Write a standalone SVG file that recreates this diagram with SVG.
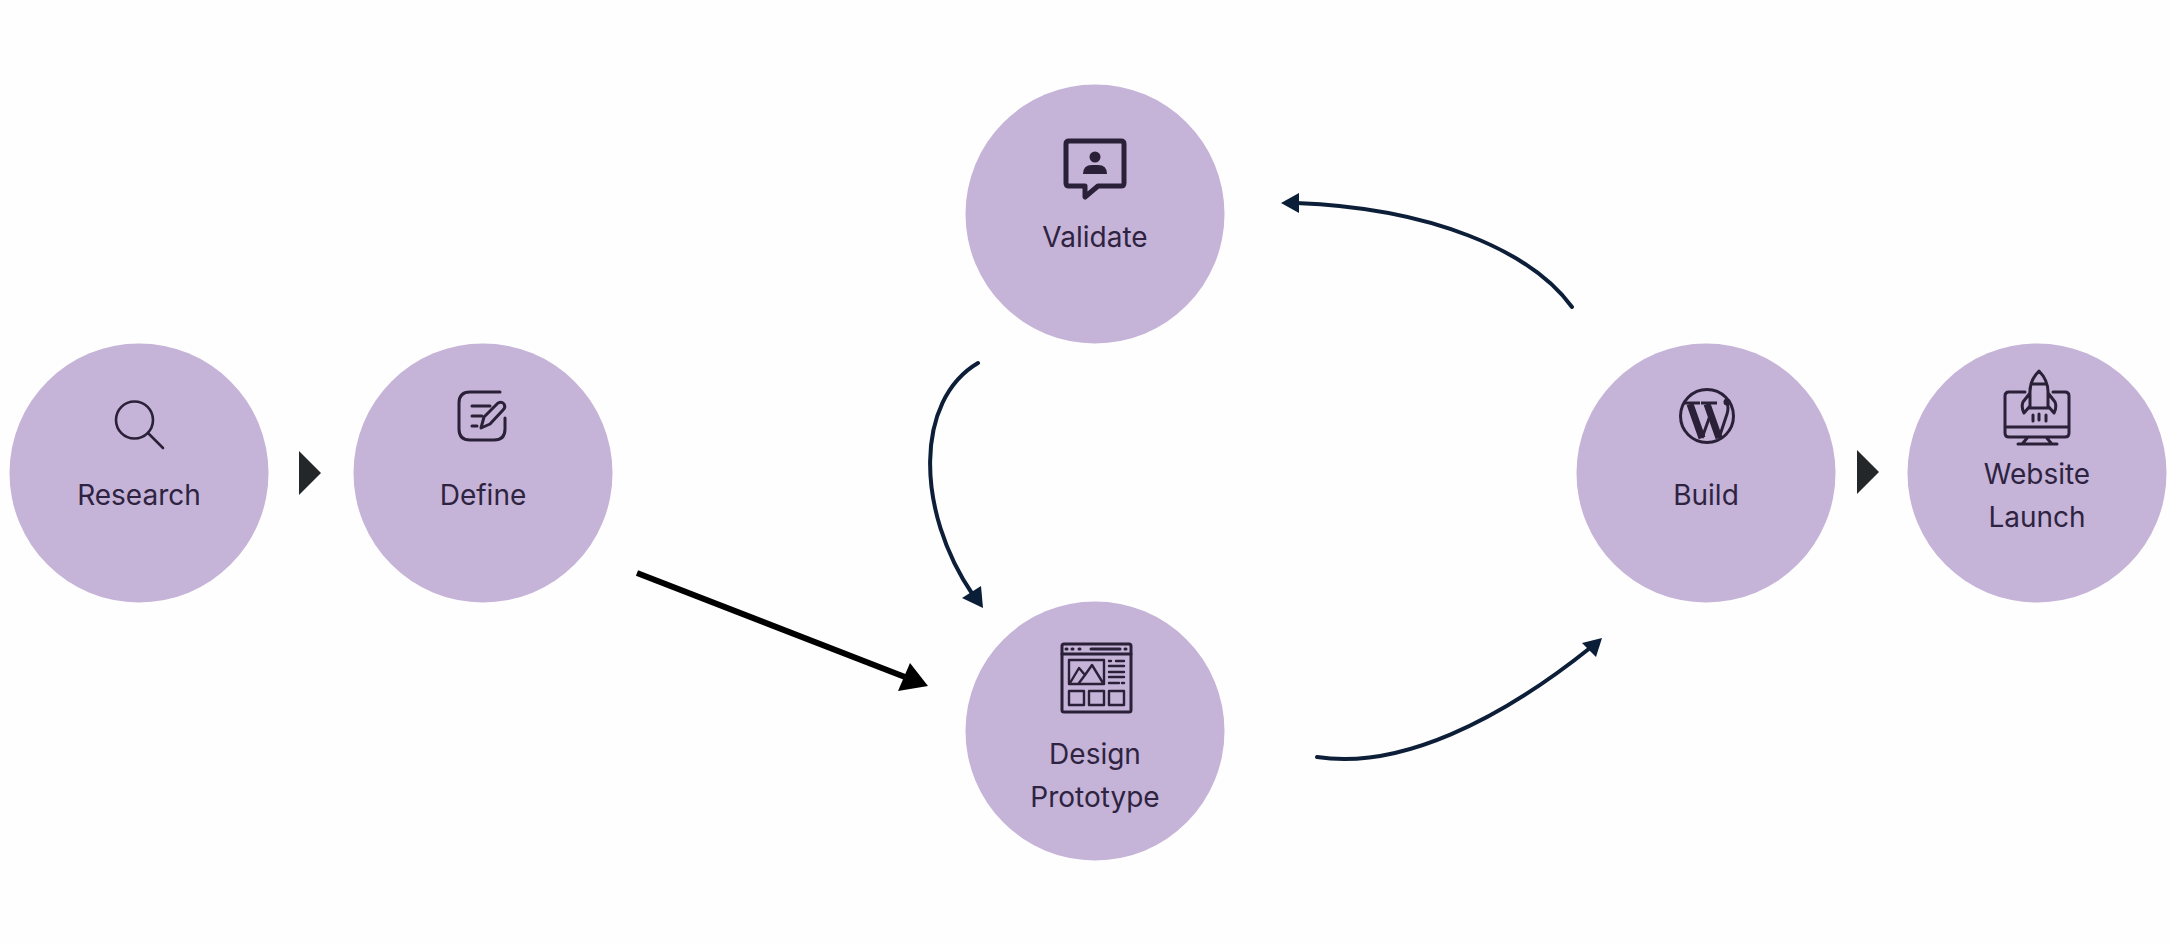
<svg xmlns="http://www.w3.org/2000/svg" width="2170" height="944" viewBox="0 0 2170 944">
<style>
.c{fill:#c5b3d8}
.t{font-family:Inter,"Liberation Sans",sans-serif;font-size:28px;fill:#2e2340;text-anchor:middle}
.i{fill:none;stroke:#2a2038;stroke-width:3;stroke-linecap:round;stroke-linejoin:round}
.f{fill:#2a2038}
.n{fill:none;stroke:#0d1f38;stroke-width:4;stroke-linecap:round}
.h{fill:#0a1e38}
.w1{fill:none;stroke:#2a2038;stroke-width:7}
.w2{fill:none;stroke:#2a2038;stroke-width:3}
</style>
<rect width="2170" height="944" fill="#fefefe"/>
<g id="connectors">
<path d="M299 451V495L321 473z" fill="#23272a"/>
<path d="M1857 450V494L1879 472z" fill="#23272a"/>
<path d="M637 573L905 677" fill="none" stroke="#000" stroke-width="6"/>
<path d="M928 686L898 691L910 663z" fill="#000"/>
<path class="n" d="M978 363C915 400 915 510 973 595"/>
<path class="h" d="M983 608L962 598L981 586z"/>
<path class="n" d="M1317 757C1400 770 1500 720 1590 648"/>
<path class="h" d="M1602 638L1582 643L1596 657z"/>
<path class="n" d="M1572 307C1530 250 1430 208 1296 203"/>
<path class="h" d="M1281 203L1299 193V213z"/>
</g>
<g id="research"><circle class="c" cx="139" cy="473" r="129.500"/>
<circle class="i" cx="134.500" cy="420" r="18.500" style="stroke-width:2.600"/><path class="i" style="stroke-width:2.600" d="M148 433L163 448"/>
<text class="t" x="139" y="505">Research</text></g>
<g id="define"><circle class="c" cx="483" cy="473" r="129.500"/>
<path class="i" d="M500 392H470Q459 392 459 403V429Q459 440 470 440H494Q505 440 505 429V418"/>
<path class="i" d="M472 406H490M472 416H482M472 426H477"/>
<path class="i" d="M481 428L484 417L498 403Q502 401 504 404Q506 407 503 410L490 424z"/>
<text class="t" x="483" y="505">Define</text></g>
<g id="validate"><circle class="c" cx="1095" cy="214" r="129.500"/>
<path class="i" style="stroke-width:5" d="M1069 141H1121Q1124 141 1124 144V183Q1124 186 1121 186H1098L1085 197V186H1069Q1066 186 1066 183V144Q1066 141 1069 141z"/>
<circle class="f" cx="1095" cy="157" r="5.500"/><path class="f" d="M1083 174Q1083 165 1092 165H1098Q1107 165 1107 174z"/>
<text class="t" x="1095" y="247">Validate</text></g>
<g id="design"><circle class="c" cx="1095" cy="731" r="129.500"/>
<rect class="i" x="1062" y="644" width="69" height="68" rx="2"/>
<path class="i" d="M1062 654H1131M1091 649H1120M1066 649h1M1072 649h1M1079 649h1M1125 649h1"/>
<g style="stroke-width:2.400">
<rect class="i" style="stroke-width:2.400" x="1069" y="660" width="35" height="24"/>
<path class="i" style="stroke-width:2.400" d="M1070 683L1079 668L1085 675L1092 665L1103 683M1079 683L1085 675M1109 661h2M1116 661h8M1109 666h15M1109 672h15M1109 677h15M1109 683h10M1122 683h2"/>
<rect class="i" style="stroke-width:2.400" x="1069" y="691" width="15" height="14"/><rect class="i" style="stroke-width:2.400" x="1089" y="691" width="15" height="14"/><rect class="i" style="stroke-width:2.400" x="1109" y="691" width="15" height="14"/>
</g>
<text class="t" x="1095" y="764">Design</text><text class="t" x="1095" y="807">Prototype</text></g>
<g id="build"><circle class="c" cx="1706" cy="473" r="129.500"/>
<circle class="i" cx="1707" cy="416" r="26.500"/>
<path class="w1" d="M1690 404L1702 438M1707 404L1719 438"/>
<path class="w2" d="M1702 438L1711 413M1719 438L1727 414Q1729 408 1727 403"/>
<path class="w2" d="M1683 403H1700M1701 403H1717"/>
<circle class="f" cx="1727" cy="402" r="3.500"/>
<text class="t" x="1706" y="505">Build</text></g>
<g id="launch"><circle class="c" cx="2037" cy="473" r="129.500"/>
<path class="i" d="M2025 392H2009Q2005 392 2005 396V433Q2005 437 2009 437H2065Q2069 437 2069 433V396Q2069 392 2065 392H2053M2005 427H2069M2028 437L2023 443M2046 437L2051 443M2018 444H2057"/>
<path class="i" d="M2039 371Q2029 381 2030 395V408H2048V395Q2049 381 2039 371zM2032 384H2046M2030 393L2023 402Q2021 407 2024 413L2030 406M2048 393L2055 402Q2057 407 2054 413L2048 406M2033 415V421M2039 414V420M2046 415V421"/>
<text class="t" x="2037" y="484">Website</text><text class="t" x="2037" y="527">Launch</text></g>
</svg>
